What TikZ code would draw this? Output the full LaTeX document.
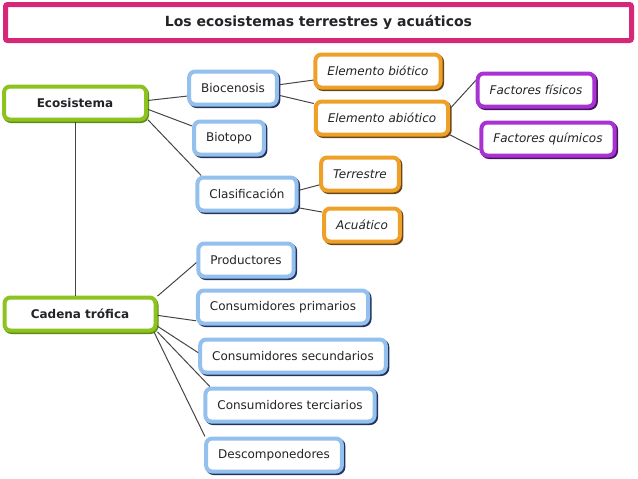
\documentclass[tikz,border=0pt]{standalone}
\usepackage{fontspec}
\setmainfont{DejaVu Sans}
\usetikzlibrary{shadows}

\definecolor{txt}{RGB}{35,35,40}
\definecolor{bluebd}{RGB}{148,192,238}
\definecolor{bluesh}{RGB}{35,50,95}
\definecolor{orangebd}{RGB}{238,160,40}
\definecolor{orangesh}{RGB}{105,70,25}
\definecolor{purplebd}{RGB}{170,50,210}
\definecolor{purplesh}{RGB}{70,20,95}
\definecolor{greenbd}{RGB}{140,195,30}
\definecolor{greensh}{RGB}{95,140,20}
\definecolor{titlebd}{RGB}{214,40,120}
\definecolor{linecol}{RGB}{70,70,70}

\tikzset{
  box/.style={rectangle, rounded corners=6pt, line width=4pt, fill=white,
    minimum height=33pt, inner xsep=12pt, text=txt, font=\fontsize{12}{14}\selectfont},
  bluebox/.style={box, draw=bluebd,
    general shadow={fill=bluesh, draw=bluesh, line width=4pt, shadow xshift=1.5pt, shadow yshift=-1.5pt}},
  orangebox/.style={box, draw=orangebd, font=\fontsize{12}{14}\selectfont\itshape,
    general shadow={fill=orangesh, draw=orangesh, line width=4pt, shadow xshift=1.5pt, shadow yshift=-1.5pt}},
  purplebox/.style={box, draw=purplebd, font=\fontsize{12}{14}\selectfont\itshape,
    general shadow={fill=purplesh, draw=purplesh, line width=4pt, shadow xshift=1.5pt, shadow yshift=-1.5pt}},
  greenbox/.style={box, draw=greenbd, font=\fontsize{12}{14}\selectfont\bfseries,
    general shadow={fill=greensh, draw=greensh, line width=4pt, shadow xshift=1pt, shadow yshift=-1.5pt}},
  link/.style={draw=linecol, line width=1pt},
}

\begin{document}
\begin{tikzpicture}[x=1pt,y=-1pt]
\useasboundingbox (0,0) rectangle (638,479);
\node (title) at (318.5,22.5) [draw=titlebd, line width=5pt, fill=white, rounded corners=2pt,
  minimum width=626pt, minimum height=36pt, text=txt, font=\fontsize{14}{16}\selectfont\bfseries]
  {Los ecosistemas terrestres y acuáticos};
\node (eco) at (75,103) [greenbox, minimum width=142pt] {Ecosistema};
\node (cad) at (80,314) [greenbox, minimum width=151pt] {Cadena trófica};
\node (bioc) at (233,88) [bluebox] {Biocenosis};
\node (biot) at (229,138) [bluebox] {Biotopo};
\node (clas) at (247,194) [bluebox] {Clasificación};
\node (ebio) at (378,71) [orangebox] {Elemento biótico};
\node (eabio) at (382,118) [orangebox] {Elemento abiótico};
\node (ffis) at (536,90) [purplebox] {Factores físicos};
\node (fqui) at (548,139) [purplebox] {Factores químicos};
\node (terr) at (360,174) [orangebox] {Terrestre};
\node (acua) at (362,225) [orangebox] {Acuático};
\node (prod) at (246,260) [bluebox] {Productores};
\node (cprim) at (283,307) [bluebox] {Consumidores primarios};
\node (csec) at (293,356) [bluebox] {Consumidores secundarios};
\node (cter) at (290,405) [bluebox] {Consumidores terciarios};
\node (desc) at (274,455) [bluebox] {Descomponedores};
% ramas de Ecosistema
\draw [link] (eco.2)--(bioc.190);
\draw [link] (eco.-5)--(biot.162);
\draw [link] (eco.-13)--(clas.158);
\draw [link] (bioc.4)--(ebio.188);
\draw [link] (bioc.-9)--(eabio.168);
\draw [link] (eabio.8)--(ffis.171);
\draw [link] (eabio.-14)--(fqui.189);
\draw [link] (clas.4)--(terr.195);
\draw [link] (clas.-15)--(acua.162);
\draw [link] (eco.south)--(eco.south |- cad.north);
% ramas de Cadena trófica
\draw [link] (cad.13)--(prod.183);
\draw [link] (cad.-1.5)--(cprim.189);
\draw [link] (cad.-9.5)--(csec.178);
\draw [link] (cad.-13)--(cter.167);
\draw [link] (cad.-14)--(desc.165);
\end{tikzpicture}
\end{document}
